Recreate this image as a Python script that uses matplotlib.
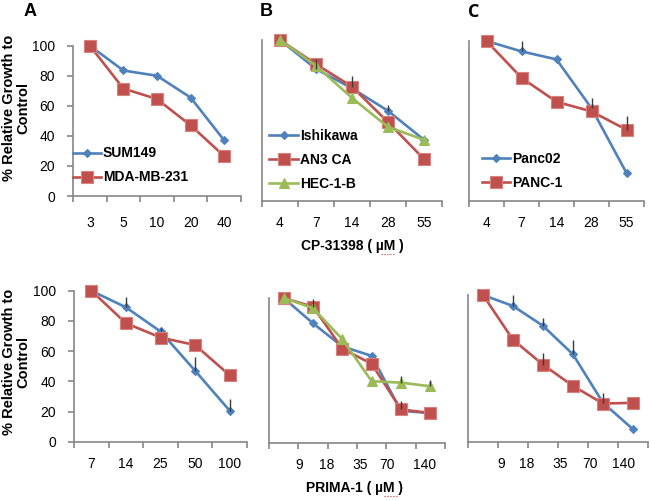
import numpy as np
import matplotlib
matplotlib.use("Agg")
import matplotlib.pyplot as plt

# --- data ---
cp_a_doses = ['3', '5', '10', '20', '40']
sum149_cp = [100, 83.5, 80, 65.5, 37]
mda231_cp = [100, 71.5, 64.5, 47, 26.5]

cp_b_doses = ['4', '7', '14', '28', '55']
ishikawa_cp = [100, 82, 70, 56, 38]
ishikawa_cp_err = [0, 6.5, 0, 3.5, 0]
an3ca_cp = [100, 85, 71, 49, 26]
an3ca_cp_err = [0, 0, 6.5, 0, 0]
hec1b_cp = [100, 84, 64, 46, 38]

cp_c_doses = ['4', '7', '14', '28', '55']
panc02_cp = [100, 93.5, 88.5, 58, 17.5]
panc02_cp_err = [0, 6.5, 0, 6.5, 0]
panc1_cp = [100, 77, 62, 56, 44.5]
panc1_cp_err = [0, 0, 0, 0, 8.5]

pr_a_doses = ['7', '14', '25', '50', '100']
sum149_pr = [100, 89, 73, 47, 20.5]
sum149_pr_err = [0, 7, 2, 9, 8]
mda231_pr = [100, 78.5, 69, 64, 44]

pr_bc_doses = ['9', '18', '35', '70', '140']
ishikawa_pr = [100, 82.5, 66.5, 60, 22, 20.5]
an3ca_pr = [100, 94, 65, 54.5, 23, 20.5]
an3ca_pr_err = [0, 5.5, 0, 0, 6, 0]
hec1b_pr = [100, 93, 71.5, 42.5, 41.5, 39]
hec1b_pr_err = [0, 0, 0, 0, 4.5, 4]

panc02_pr = [100, 92.5, 79, 59.5, 26.5, 8.5]
panc02_pr_err = [0, 7.5, 5, 10, 7, 0]
panc1_pr = [100, 69.5, 52.5, 38, 26, 26.5]
panc1_pr_err = [0, 0, 8, 0, 0, 0]

BLUE = '#4F81BD'
RED = '#C0504D'
GREEN = '#9BBB59'
GRAY = '#868686'

W, H = 650, 501
plt.rcParams['font.family'] = ['Liberation Sans', 'DejaVu Sans']
fig = plt.figure(figsize=(W / 100, H / 100), dpi=100)


def make_ax(l, r, y0, y100, n, show_y=False, xpad=11):
    ax = fig.add_axes([l / W, 1 - y0 / H, (r - l) / W, (y0 - y100) / H])
    ax.set_xlim(-0.5, n - 0.5)
    ax.set_ylim(0, 100)
    for s in ['top', 'right']:
        ax.spines[s].set_visible(False)
    for s in ['left', 'bottom']:
        ax.spines[s].set_color(GRAY)
        ax.spines[s].set_linewidth(1.2)
    ax.set_xticks(np.arange(n + 1) - 0.5)
    ax.set_xticklabels([])
    ax.tick_params(axis='x', which='major', direction='out', length=4,
                   color=GRAY, width=1.2)
    ax.tick_params(axis='x', which='minor', length=0, pad=xpad, labelsize=10)
    if show_y:
        ax.set_yticks(range(0, 101, 20))
        ax.tick_params(axis='y', direction='out', length=4, color=GRAY,
                       width=1.2, labelsize=10, pad=9)
    else:
        ax.set_yticks([])
    return ax


def series(ax, vals, color, marker, ms, label=None, err=None):
    x = np.arange(len(vals))
    if marker == 's':
        mec = '#D9817E'
    else:
        mec = color
    ax.plot(x, vals, color=color, lw=1.9, marker=marker, ms=ms, mfc=color,
            mec=mec, mew=0.8, label=label, clip_on=False, zorder=3)
    if err is not None:
        ax.errorbar(x, vals, yerr=[np.zeros(len(err)), err], fmt='none',
                    ecolor='#3A3A3A', elinewidth=1.0, capsize=0, zorder=4,
                    clip_on=False)


def labels_at(ax, pos, labels):
    ax.set_xticks(pos, minor=True)
    ax.set_xticklabels(labels, minor=True)


def legend(ax, x, y, hl):
    ax.legend(loc='upper left', bbox_to_anchor=(x, y), frameon=False,
              borderpad=0, borderaxespad=0, handlelength=hl,
              handletextpad=0.15, labelspacing=0.72,
              prop={'weight': 'bold', 'size': 10})


# top row: CP-31398
ax = make_ax(73, 241, 196, 45.7, 5, show_y=True, xpad=14.5)
series(ax, sum149_cp, BLUE, 'D', 4.5, 'SUM149')
series(ax, mda231_cp, RED, 's', 8.5, 'MDA-MB-231')
labels_at(ax, np.arange(5), cp_a_doses)
legend(ax, 0.0, 0.33, 2.0)

ax = make_ax(262, 442, 201, 40, 5)
series(ax, ishikawa_cp, BLUE, 'D', 4.5, 'Ishikawa', ishikawa_cp_err)
series(ax, an3ca_cp, RED, 's', 8.5, 'AN3 CA', an3ca_cp_err)
series(ax, hec1b_cp, GREEN, '^', 7, 'HEC-1-B')
labels_at(ax, np.arange(5), cp_b_doses)
legend(ax, 0.04, 0.445, 2.1)

ax = make_ax(469, 644, 201, 41, 5)
series(ax, panc02_cp, BLUE, 'D', 4.5, 'Panc02', panc02_cp_err)
series(ax, panc1_cp, RED, 's', 8.5, 'PANC-1', panc1_cp_err)
labels_at(ax, np.arange(5), cp_c_doses)
legend(ax, 0.074, 0.305, 2.0)

# bottom row: PRIMA-1
ax = make_ax(74, 247, 441.7, 290.7, 5, show_y=True)
series(ax, sum149_pr, BLUE, 'D', 4.5, err=sum149_pr_err)
series(ax, mda231_pr, RED, 's', 8.5)
labels_at(ax, np.arange(5), pr_a_doses)

ax = make_ax(269, 445, 442.7, 298, 6)
series(ax, ishikawa_pr, BLUE, 'D', 4.5)
series(ax, an3ca_pr, RED, 's', 8.5, err=an3ca_pr_err)
series(ax, hec1b_pr, GREEN, '^', 7, err=hec1b_pr_err)
labels_at(ax, [0.52, 1.45, 2.6, 3.53, 4.82], pr_bc_doses)

ax = make_ax(468, 648, 441.7, 295, 6)
series(ax, panc02_pr, BLUE, 'D', 4.5, err=panc02_pr_err)
series(ax, panc1_pr, RED, 's', 8.5, err=panc1_pr_err)
labels_at(ax, [0.6, 1.47, 2.57, 3.57, 4.67], pr_bc_doses)

# texts
ylab = '% Relative Growth to\nControl'
fig.text(16 / W, 1 - 108 / H, ylab, rotation=90, ha='center', va='center',
         fontsize=10.5, fontweight='bold', multialignment='center',
         linespacing=1.0)
fig.text(16 / W, 1 - 362 / H, ylab, rotation=90, ha='center', va='center',
         fontsize=10.5, fontweight='bold', multialignment='center',
         linespacing=1.0)

fig.text(352 / W, 1 - 246 / H, 'CP-31398 ( µM )', ha='center', va='center',
         fontsize=10, fontweight='bold')
fig.text(355 / W, 1 - 488 / H, 'PRIMA-1 ( µM )', ha='center', va='center',
         fontsize=10, fontweight='bold')
# spell-check squiggles under µM
fig.add_artist(plt.Line2D([381 / W, 395 / W], [1 - 254 / H, 1 - 254 / H],
                          color='#E03030', lw=0.8, ls=':'))
fig.add_artist(plt.Line2D([384 / W, 398 / W], [1 - 496 / H, 1 - 496 / H],
                          color='#E03030', lw=0.8, ls=':'))

fig.text(30 / W, 1 - 12 / H, 'A', ha='center', va='center', fontsize=13,
         fontweight='bold')
fig.text(266 / W, 1 - 12 / H, 'B', ha='center', va='center', fontsize=13,
         fontweight='bold')
fig.text(474 / W, 1 - 12 / H, 'C', ha='center', va='center', fontsize=13,
         fontweight='bold', family=['Open Sans', 'DejaVu Sans'])

fig.savefig('out.png', dpi=100)
